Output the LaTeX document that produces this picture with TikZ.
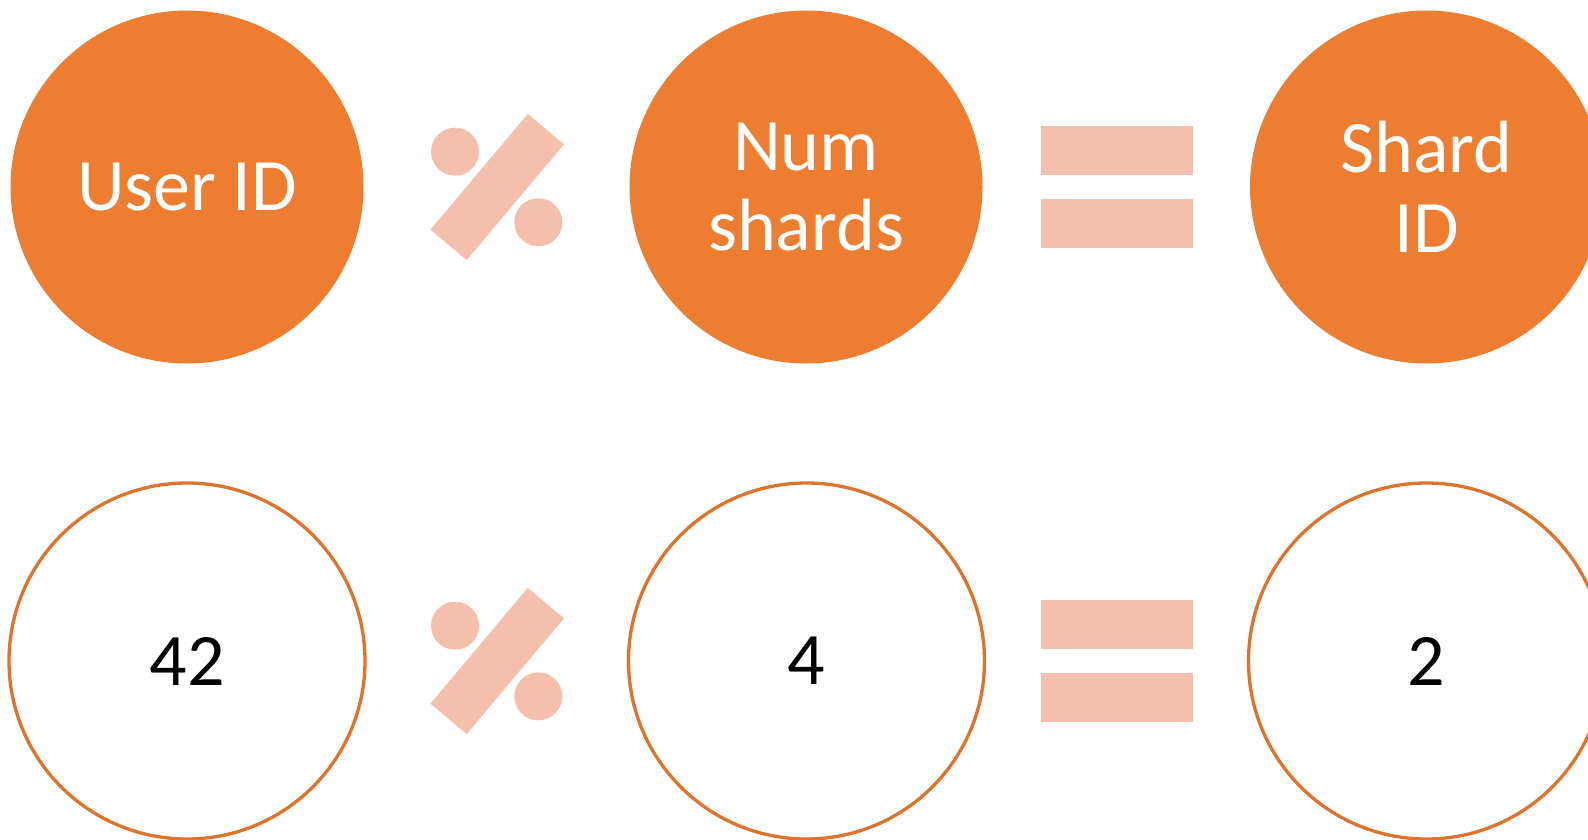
\documentclass[tikz,border=0pt]{standalone}
\usepackage{fontspec}
\setmainfont{Carlito}
\definecolor{accent}{HTML}{ED7D31}
\definecolor{accentline}{HTML}{DE732E}
\definecolor{symbolfill}{HTML}{F4BFAD}
\tikzset{
  x=1pt, y=-1pt,
  solidball/.style={circle, fill=accent, inner sep=0pt, minimum size=353pt,
    text=white, align=center, font=\fontsize{74}{80.6}\selectfont},
  ringball/.style={circle, draw=accentline, line width=3.3pt, fill=white,
    inner sep=0pt, minimum size=356pt, text=black, align=center,
    font=\fontsize{74}{80.6}\selectfont},
  symbolpart/.style={fill=symbolfill, draw=none},
}
% percent sign centred on the current origin
\newcommand{\percentsign}[1]{%
  \begin{scope}[shift={(497.2,#1)}]
    \fill[symbolpart] (-30.55,73.07) -- (-66.75,42.63) -- (30.55,-73.07) -- (66.75,-42.63) -- cycle;
    \fill[symbolpart] (-42.2,-35.3) circle[radius=24];
    \fill[symbolpart] (41.1,35.3) circle[radius=24];
  \end{scope}}
% equals sign centred vertically on the given row
\newcommand{\equalsign}[1]{%
  \begin{scope}[shift={(0,#1)}]
    \fill[symbolpart] (1041,-61) rectangle (1192.7,-12);
    \fill[symbolpart] (1041,12.3) rectangle (1192.7,60.7);
  \end{scope}}
\begin{document}
\begin{tikzpicture}
  \useasboundingbox (0,0) rectangle (1588,840);
  \clip (0,0) rectangle (1588,840);
  % formula row
  \node[solidball] (userid) at (187,187) {User ID};
  \node[solidball] (numshards) at (806,187) {Num\\shards};
  \node[solidball] (shardid) at (1426.5,187) {Shard\\ID};
  \percentsign{187}
  \equalsign{187}
  % example row
  \node[ringball] (valuser) at (187,661) {42};
  \node[ringball] (valnum) at (806.5,661) {4};
  \node[ringball] (valshard) at (1426.5,661) {2};
  \percentsign{661}
  \equalsign{661}
\end{tikzpicture}
\end{document}
